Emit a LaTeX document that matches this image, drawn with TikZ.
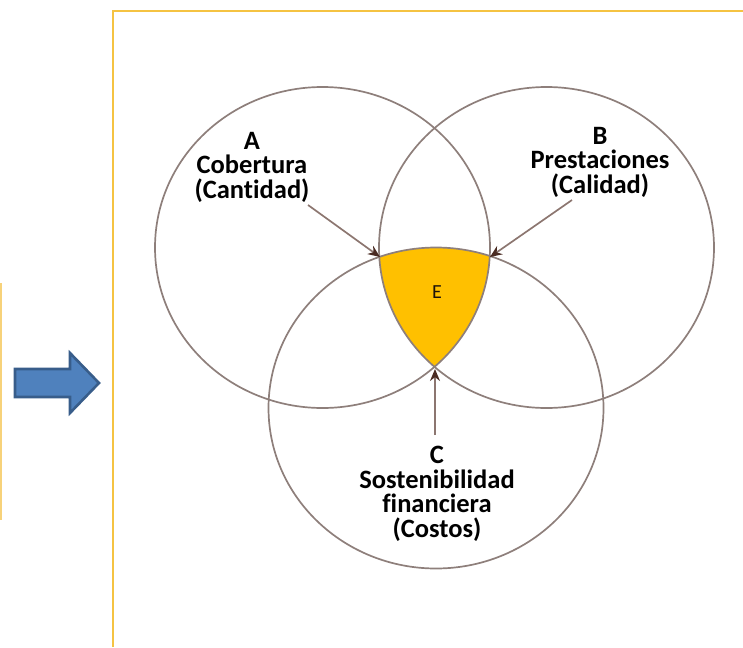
\documentclass[tikz,border=0pt]{standalone}
\usepackage{fontspec}
\setmainfont{Carlito}[Ligatures=NoCommon]
\usetikzlibrary{arrows.meta}
\definecolor{framegold}{HTML}{F5C342}
\definecolor{lightgold}{HTML}{F7D27A}
\definecolor{ringcol}{HTML}{8E7F7B}
\definecolor{arrowline}{HTML}{8C7670}
\definecolor{arrowhead}{HTML}{4A2B22}
\definecolor{egold}{HTML}{FFC000}
\definecolor{bluefill}{HTML}{4F81BD}
\definecolor{blueedge}{HTML}{385D8A}
\tikzset{
  ring/.style={draw=ringcol, line width=1.7pt},
  pointer/.style={draw=arrowline, line width=1.7pt,
    -{Stealth[length=12pt,width=10pt,color=arrowhead]}},
  setlabel/.style={align=center, text=black,
    font=\bfseries\fontsize{26.5}{24.5}\selectfont},
}
\begin{document}
\begin{tikzpicture}[x=1pt,y=-1pt]
\useasboundingbox (0,0) rectangle (743,647);
% frames
\draw[lightgold, line width=2pt] (1,283) -- (1,520);
\draw[framegold, line width=2.8pt, line join=miter] (113,647) -- (113,11) -- (745,11);
% block arrow
\draw[fill=bluefill, draw=blueedge, line width=2.6pt, line join=miter]
  (15,369) -- (70,369) -- (70,353) -- (99,383) -- (70,413) -- (70,397) -- (15,397) -- cycle;
% E region
\begin{scope}
  \clip (322.5,247.5) ellipse [x radius=167.5, y radius=160.5];
  \clip (546.5,247.5) ellipse [x radius=167.5, y radius=160.5];
  \fill[egold] (436,408) ellipse [x radius=167.5, y radius=160.5];
\end{scope}
% circles
\draw[ring] (322.5,247.5) ellipse [x radius=167.5, y radius=160.5];
\draw[ring] (546.5,247.5) ellipse [x radius=167.5, y radius=160.5];
\draw[ring] (436,408) ellipse [x radius=167.5, y radius=160.5];
% labels
\node[setlabel] (la) at (252,167) {A\\Cobertura\\(Cantidad)};
\node[setlabel] (lb) at (600,162) {B\\Prestaciones\\(Calidad)};
\node[setlabel] (lc) at (437,494) {C\\Sostenibilidad\\financiera\\(Costos)};
\node[font=\fontsize{20}{20}\selectfont, text=black!85!brown] (le) at (437,292) {E};
% pointer ends
\coordinate (sa) at (308,205);
\coordinate (ea) at (380,257);
\coordinate (sb) at (572,200);
\coordinate (eb) at (490,257);
\coordinate (sc) at (435,435);
\coordinate (ec) at (435,369);
\draw[pointer] (sa) -- (ea);
\draw[pointer] (sb) -- (eb);
\draw[pointer] (sc) -- (ec);
\end{tikzpicture}
\end{document}
